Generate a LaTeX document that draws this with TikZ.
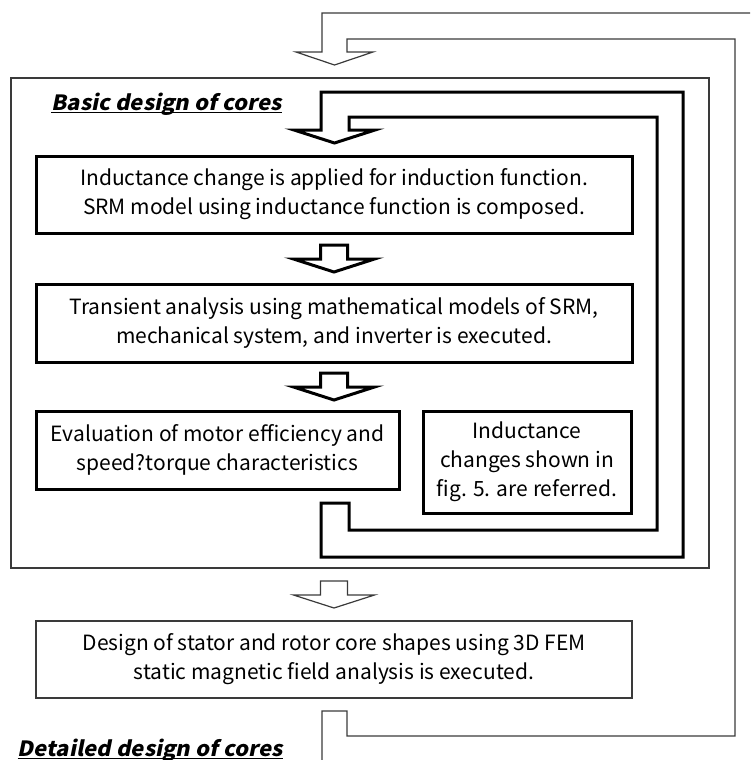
\documentclass[tikz,border=0pt]{standalone}
\usepackage{fontspec}
\usepackage{tikz}
\usetikzlibrary{calc}
\newfontfamily\cjk{Noto Sans CJK JP}
\newfontfamily\headfont[FakeSlant=0.2,FakeStretch=1.05]{Noto Sans CJK JP}
\definecolor{linegrey}{HTML}{3A3A3A}
\newcommand\hollowarrow[3]{\draw[#1] ($(#2)!.5!(#3)$) ++(-13.5,-13.5) -- ++(0,14) -- ++(-27,0) -- ++(40.5,13) -- ++(40.5,-13) -- ++(-27,0) -- ++(0,-14) -- cycle;}

\begin{document}
\begin{tikzpicture}[x=1pt,y=-1pt,
  every node/.style={font=\cjk\fontsize{21}{29}\selectfont},
  boldbox/.style={draw,line width=3pt,align=center,inner sep=0pt},
  thinbox/.style={draw=linegrey,line width=1.2pt,align=center,inner sep=0pt},
  boldline/.style={draw,line width=3pt,line join=miter},
  thinline/.style={draw=linegrey,line width=1.2pt,line join=miter},
  headline/.style={font=\headfont\bfseries\fontsize{21}{24}\selectfont,inner sep=0pt,anchor=base east}]

\useasboundingbox (0,0) rectangle (750,760);
\begin{scope}
\clip (0,0) rectangle (750,760);
\draw[thinline] (322,770) -- (322,711) -- (347,711) -- (347,736) -- (735,736) -- (735,39) -- (347,39) -- (347,52) -- (373,52) -- (334.5,65) -- (296,52) -- (322,52) -- (322,13) -- (765,13) -- (765,770) -- cycle;
\end{scope}

\node[thinbox,minimum width=698,minimum height=490] (basic) at (360,323) {};
\node[headline] (basictitle) at (282,110) {Basic design of cores};
\draw[line width=1.5pt] ([yshift=-2.5pt]basictitle.base west) -- ([yshift=-2.5pt]basictitle.base east);

\draw[boldline] (321,503) -- (321,557) -- (683,557) -- (683,92) -- (321,92) -- (321,130) -- (294,130) -- (334.5,143) -- (375,130) -- (349,130) -- (349,117) -- (657,117) -- (657,530) -- (349,530) -- (349,503) -- cycle;

\node[boldbox,minimum width=596,minimum height=77] (induct) at (334,194.5) {Inductance change is applied for induction function.\\SRM model using inductance function is composed.};
\node[boldbox,minimum width=596,minimum height=78] (transient) at (334,323) {Transient analysis using mathematical models of SRM,\\mechanical system, and inverter is executed.};
\node[boldbox,minimum width=363,minimum height=78] (evaluate) at (217.5,450) {Evaluation of motor efficiency and\\speed?torque characteristics};
\node[boldbox,minimum width=208,minimum height=102] (refer) at (527,462) {Inductance\\changes shown in\\fig. 5. are referred.};
\node[thinbox,minimum width=596,minimum height=77] (fem) at (334,659.5) {Design of stator and rotor core shapes using 3D FEM\\static magnetic field analysis is executed.};

\hollowarrow{boldline}{induct.south}{transient.north}
\hollowarrow{boldline}{transient.south}{transient.south |- evaluate.north}
\hollowarrow{thinline}{fem.north |- basic.south}{fem.north}

\node[headline] (detailtitle) at (283,756) {Detailed design of cores};
\draw[line width=1.5pt] ([yshift=-2.5pt]detailtitle.base west) -- ([yshift=-2.5pt]detailtitle.base east);
\end{tikzpicture}
\end{document}
